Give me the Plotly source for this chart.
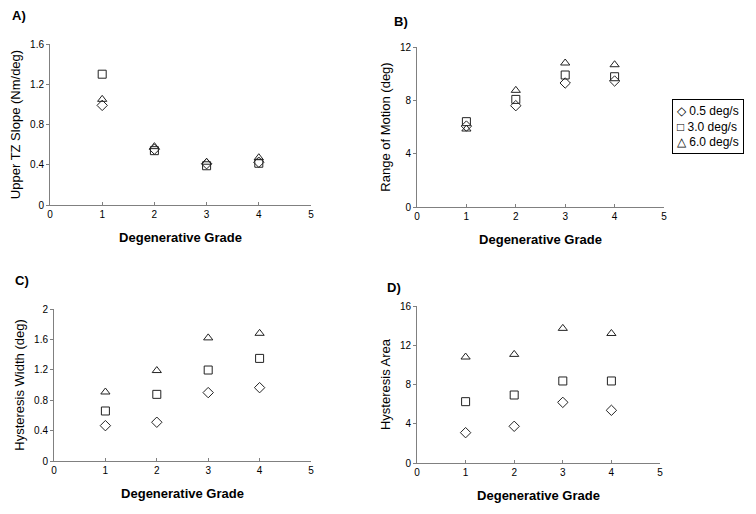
import plotly.graph_objects as go

W, H = 756, 514

grades = [1, 2, 3, 4]
series_names = ["0.5 deg/s", "3.0 deg/s", "6.0 deg/s"]
symbols = ["diamond-open", "square-open", "triangle-up-open"]
legend_glyphs = ["\u25C7", "\u25A1", "\u25B3"]

# Panel A: Upper TZ Slope (Nm/deg)
a_05 = [0.99, 0.555, 0.41, 0.425]
a_30 = [1.30, 0.54, 0.39, 0.415]
a_60 = [1.05, 0.58, 0.425, 0.47]

# Panel B: Range of Motion (deg)
b_05 = [6.07, 7.6, 9.3, 9.45]
b_30 = [6.4, 8.07, 9.9, 9.77]
b_60 = [5.85, 8.75, 10.8, 10.67]

# Panel C: Hysteresis Width (deg)
c_05 = [0.465, 0.51, 0.90, 0.965]
c_30 = [0.658, 0.877, 1.197, 1.35]
c_60 = [0.908, 1.19, 1.62, 1.68]

# Panel D: Hysteresis Area
d_05 = [3.09, 3.74, 6.18, 5.37]
d_30 = [6.25, 6.93, 8.36, 8.36]
d_60 = [10.8, 11.07, 13.72, 13.2]

x_ticks = [0, 1, 2, 3, 4, 5]
a_ticks = ["0", "0.4", "0.8", "1.2", "1.6"]
b_ticks = ["0", "4", "8", "12"]
c_ticks = ["0", "0.4", "0.8", "1.2", "1.6", "2"]
d_ticks = ["0", "4", "8", "12", "16"]

panels = [
    dict(data=[a_05, a_30, a_60], ytitle="Upper TZ Slope (Nm/deg)", yrange=[0, 1.6], yticks=a_ticks,
         px=(50, 311), py=(44, 205), label="A)", lab_xy=(10, 15)),
    dict(data=[b_05, b_30, b_60], ytitle="Range of Motion (deg)", yrange=[0, 12], yticks=b_ticks,
         px=(417, 664), py=(47, 207), label="B)", lab_xy=(392, 22)),
    dict(data=[c_05, c_30, c_60], ytitle="Hysteresis Width (deg)", yrange=[0, 2], yticks=c_ticks,
         px=(54, 311), py=(309, 461), label="C)", lab_xy=(13, 280)),
    dict(data=[d_05, d_30, d_60], ytitle="Hysteresis Area", yrange=[0, 16], yticks=d_ticks,
         px=(417, 660), py=(306, 463), label="D)", lab_xy=(385, 287)),
]

fig = go.Figure()
layout = dict(
    width=W, height=H, margin=dict(l=0, r=0, t=0, b=0, autoexpand=False),
    paper_bgcolor="white", plot_bgcolor="white",
    font=dict(family="Liberation Sans, Arial", color="black", size=10),
    showlegend=False,
)
annotations = []

for i, p in enumerate(panels):
    n = "" if i == 0 else str(i + 1)
    xa, ya = "x" + n, "y" + n
    for j, vals in enumerate(p["data"]):
        fig.add_trace(go.Scatter(
            x=grades, y=vals, mode="markers", name=series_names[j],
            xaxis=xa, yaxis=ya,
            marker=dict(symbol=symbols[j], size=8, color="#222222", line=dict(width=1, color="#222222")),
        ))
    x0, x1 = p["px"]
    y0, y1 = p["py"]
    layout["xaxis" + n] = dict(
        domain=[x0 / W, x1 / W], range=[0, 5], anchor=ya, tickmode="array",
        tickvals=x_ticks, ticktext=[str(v) for v in x_ticks], automargin=False,
        showline=True, linecolor="#808080", linewidth=1, ticks="inside", ticklen=3, tickcolor="#808080",
        showgrid=False, zeroline=False, tickfont=dict(size=10),
        title=dict(text="<b>Degenerative Grade</b>", font=dict(size=13), standoff=13),
    )
    tv = [float(t) for t in p["yticks"]]
    layout["yaxis" + n] = dict(
        domain=[1 - y1 / H, 1 - y0 / H], range=p["yrange"], anchor=xa, tickmode="array",
        tickvals=tv, ticktext=p["yticks"], automargin=False,
        showline=True, linecolor="#808080", linewidth=1, ticks="outside", ticklen=3, tickcolor="#808080",
        showgrid=False, zeroline=False, tickfont=dict(size=10),
        title=dict(text=p["ytitle"], font=dict(size=13), standoff=6),
    )
    lx, ly = p["lab_xy"]
    annotations.append(dict(text="<b>" + p["label"] + "</b>", x=lx / W, y=1 - ly / H, xref="paper", yref="paper",
                            xanchor="left", yanchor="middle", showarrow=False, font=dict(size=13)))

legend_text = "<br>".join(g + " " + s for g, s in zip(legend_glyphs, series_names))
annotations.append(dict(
    text=legend_text, x=672 / W, y=1 - 99 / H, xref="paper", yref="paper",
    xanchor="left", yanchor="top", align="left", showarrow=False,
    font=dict(size=12, family="Liberation Sans, Arial"), bordercolor="black", borderwidth=1, borderpad=4,
    bgcolor="white",
))

layout["annotations"] = annotations
fig.update_layout(**layout)
fig.write_html("out.html", config={"displayModeBar": False},
               post_script="document.body.style.margin='0';document.body.style.overflow='hidden';")
